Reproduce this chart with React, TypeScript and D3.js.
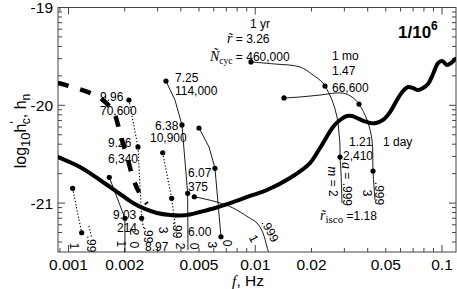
import React from "react";
import * as d3 from "d3";

const W = 457;
const H = 289;

// axis domains (frequency in Hz, log10 strain)
const fDomain = [0.000879, 0.1188];
const logHDomain = [-21.5, -19];

const xTickValues = [0.001, 0.002, 0.005, 0.01, 0.02, 0.05, 0.1];
const xTickLabels = ["0.001", "0.002", "0.005", "0.01", "0.02", "0.05", "0.1"];
const yTickValues = [-21, -20, -19];
const yTickLabels = ["-21", "-20", "-19"];

// LISA noise curve h_n
const noiseF = [0.000879, 0.001152, 0.001475, 0.001887, 0.002215, 0.002568, 0.002978, 0.003495, 0.003955, 0.004473, 0.005058, 0.006087, 0.007602, 0.009374, 0.01156, 0.01535, 0.01964, 0.02222, 0.02608, 0.02843, 0.03099, 0.03297, 0.03505, 0.03822, 0.04116, 0.04432, 0.04831, 0.05267, 0.05741, 0.06183, 0.06576, 0.06993, 0.07437, 0.0791, 0.08414, 0.0895, 0.09519, 0.1, 0.1064, 0.1117, 0.1174];
const noiseLogH = [-20.529, -20.631, -20.764, -20.907, -20.999, -21.06, -21.101, -21.122, -21.127, -21.117, -21.091, -21.05, -20.989, -20.927, -20.866, -20.743, -20.59, -20.437, -20.222, -20.15, -20.109, -20.109, -20.13, -20.161, -20.181, -20.181, -20.15, -20.069, -19.946, -19.854, -19.813, -19.823, -19.844, -19.823, -19.782, -19.68, -19.568, -19.547, -19.588, -19.568, -19.527];

// thick dashed curve
const dashF = [0.000879, 0.001353, 0.001549, 0.001668, 0.001774, 0.001842, 0.001934, 0.002057, 0.002215, 0.002385, 0.002632];
const dashLogH = [-19.772, -19.885, -19.956, -20.017, -20.099, -20.201, -20.355, -20.518, -20.743, -20.887, -21.009];

// source tracks [f, log10 h]
const trackA = [[1.0531e-3, -20.849], [1.1768e-3, -21.303]];
const trackA2 = [[1.2875e-3, -21.234], [1.3279e-3, -21.347]];
const trackB = [[2.108e-3, -19.946], [2.356e-3, -20.426], [2.465e-3, -21.155], [2.537e-3, -21.265]];
const trackC = [[1.654e-3, -20.736], [2.006e-3, -21.155], [2.006e-3, -21.5]];
const trackD = [[3.327e-3, -19.752], [3.718e-3, -19.946], [4.053e-3, -20.201], [4.347e-3, -20.9], [4.363e-3, -21.48]];
const trackE = [[3.195e-3, -20.485], [3.569e-3, -20.951], [3.796e-3, -21.344]];
const trackF = [[4.998e-3, -20.232], [5.655e-3, -20.426], [6.087e-3, -20.644], [6.555e-3, -21.344]];
const trackG = [[4.717e-3, -20.935], [6.24e-3, -20.989], [7.602e-3, -21.05], [9.146e-3, -21.142], [1.0218e-2, -21.204], [1.1002e-2, -21.306], [1.1559e-2, -21.449], [1.1775e-2, -21.5]];
const trackYr1 = [[9.489e-3, -19.557], [1.2758e-2, -19.578], [1.7362e-2, -19.608], [2.0383e-2, -19.69], [2.2773e-2, -19.762], [2.363e-2, -19.803], [2.5761e-2, -19.946], [2.74e-2, -20.12], [2.8086e-2, -20.283], [2.8435e-2, -20.426], [2.8435e-2, -20.529], [2.8787e-2, -20.692], [2.9145e-2, -20.999]];
const trackYr2 = [[1.4255e-2, -19.925], [1.7362e-2, -19.915], [2.2219e-2, -19.895], [2.9145e-2, -19.874], [3.2971e-2, -19.915], [3.5938e-2, -19.987], [3.9669e-2, -20.15], [4.2188e-2, -20.355], [4.271e-2, -20.672], [4.3777e-2, -20.968]];

// marked points
const sourceDots = [
  [1.0531e-3, -20.849], [1.1768e-3, -21.303], [2.108e-3, -19.946], [2.356e-3, -20.426],
  [2.465e-3, -21.155], [2.006e-3, -21.155], [1.654e-3, -20.736], [3.195e-3, -20.485],
  [3.569e-3, -20.951], [4.053e-3, -20.201], [3.327e-3, -19.752], [4.998e-3, -20.232],
  [6.087e-3, -20.644], [4.347e-3, -20.9], [4.717e-3, -20.935], [6.555e-3, -21.344],
  [9.489e-3, -19.557], [2.363e-2, -19.803], [2.8435e-2, -20.529], [1.4255e-2, -19.925],
  [3.5938e-2, -19.987], [4.271e-2, -20.672],
];

// horizontal labels: text, f, log10 h (left, baseline)
const pointLabels: [string, number, number][] = [
  ["9.96", 1.4746e-3, -19.961],
  ["70,600", 1.4746e-3, -20.099],
  ["9.26", 1.6274e-3, -20.426],
  ["6,340", 1.6274e-3, -20.59],
  ["7.25", 3.718e-3, -19.762],
  ["114,000", 3.718e-3, -19.895],
  ["6.38", 2.905e-3, -20.248],
  ["10,900", 2.732e-3, -20.378],
  ["9.03", 1.7306e-3, -21.163],
  ["214", 1.8187e-3, -21.296],
  ["6.07", 4.3634e-3, -20.733],
  ["375", 4.3634e-3, -20.876],
  ["6.00", 4.3634e-3, -21.336],
  ["8.97", 2.5684e-3, -21.49],
  ["1 yr", 9.374e-3, -19.21],
  ["1 mo", 2.5761e-2, -19.537],
  ["1.47", 2.5761e-2, -19.69],
  ["66,600", 2.5761e-2, -19.864],
  ["1.21", 3.177e-2, -20.414],
  ["1 day", 4.8318e-2, -20.414],
  ["2,410", 2.9506e-2, -20.555],
];

// rotated labels: text, f, log10 h (centre), angle
const endLabels: [string, number, number, number][] = [
  ["1", 1.0702e-3, -21.439, 90],
  [".99", 1.3279e-3, -21.418, 90],
  ["1", 1.9103e-3, -21.418, 90],
  ["2", 2.256e-3, -21.296, 90],
  ["0", 2.256e-3, -21.428, 90],
  [".99", 2.6652e-3, -21.326, 90],
  ["3", 3.2266e-3, -21.275, 90],
  [".99", 3.8098e-3, -21.275, 90],
  ["2", 3.9786e-3, -21.439, 90],
  ["0", 4.699e-3, -21.439, 90],
  ["3", 5.9021e-3, -21.428, 90],
  ["0", 7.0186e-3, -21.408, 90],
  ["1", 9.7866e-3, -21.362, 62],
  [".999", 1.1995e-2, -21.285, 62],
  ["3", 3.9426e-2, -20.897, 90],
  [".999", 4.599e-2, -20.902, 90],
];

const rLabelPos = [7.062e-3, -19.363];
const nLabelPos = [5.725e-3, -19.547];
const iscoLabelPos = [2.2219e-2, -21.173];
const ratioLabelPos = [5.8136e-2, -19.312];
const mLabelPos = [2.5919e-2, -20.779];
const aLabelPos = [3.0808e-2, -20.805];

const SANS = "'Liberation Sans', Arial, Helvetica, sans-serif";
const SERIF = "'Liberation Serif', 'Times New Roman', serif";
const AXIS = "#444";

export default function App() {
  const left = 58, right = 456, top = 7.5, bottom = 252;
  const x = d3.scaleLog().domain(fDomain).range([left, right]);
  const y = d3.scaleLinear().domain(logHDomain).range([bottom, top]);

  const xMinor: { v: number; major: boolean }[] = [];
  for (let e = -4; e <= -1; e++)
    for (let k = 1; k <= 9; k++) {
      const v = k * Math.pow(10, e);
      if (v >= fDomain[0] && v <= fDomain[1]) xMinor.push({ v, major: k === 1 });
    }
  const yMinor: { v: number; major: boolean }[] = [];
  for (let n = -22; n <= -19; n++)
    for (let k = 1; k <= 9; k++) {
      const v = n + Math.log10(k);
      if (v >= logHDomain[0] - 1e-9 && v <= logHDomain[1] + 1e-9) yMinor.push({ v, major: k === 1 });
    }

  const lin = d3.line<number[]>().x((d) => x(d[0])).y((d) => y(d[1]));
  const smooth = d3
    .line<number[]>()
    .x((d) => x(d[0]))
    .y((d) => y(d[1]))
    .curve(d3.curveCatmullRom.alpha(0.5));

  const noisePts = noiseF.map((f, i) => [f, noiseLogH[i]]);
  const dashPts = dashF.map((f, i) => [f, dashLogH[i]]);

  const tracks = [
    { pts: trackA, dotted: true, curved: false },
    { pts: trackA2, dotted: true, curved: false },
    { pts: trackB, dotted: true, curved: false },
    { pts: trackC, dotted: false, curved: false },
    { pts: trackD, dotted: false, curved: false },
    { pts: trackE, dotted: true, curved: false },
    { pts: trackF, dotted: false, curved: false },
    { pts: trackG, dotted: false, curved: true },
    { pts: trackYr1, dotted: false, curved: true },
    { pts: trackYr2, dotted: false, curved: true },
  ];

  const fs = 12;

  return (
    <svg
      width={W}
      height={H}
      viewBox={`0 0 ${W} ${H}`}
      style={{ position: "absolute", left: 0, top: 0, background: "#fff" }}
    >
      <defs>
        <clipPath id="plotClip">
          <rect x={left} y={top} width={right - left} height={bottom - top} />
        </clipPath>
      </defs>
      <rect x={0} y={0} width={W} height={H} fill="#fff" />

      {/* frame */}
      <rect x={left} y={top} width={right - left} height={bottom - top} fill="none" stroke={AXIS} strokeWidth={1} />

      {/* x ticks bottom & top */}
      {xMinor.map((t, i) => {
        const px = x(t.v);
        const len = t.major ? 7 : 4;
        return (
          <g key={"xt" + i} stroke={AXIS} strokeWidth={1}>
            <line x1={px} x2={px} y1={bottom} y2={bottom - len} />
            <line x1={px} x2={px} y1={top} y2={top + len} />
          </g>
        );
      })}
      {/* y ticks left & right */}
      {yMinor.map((t, i) => {
        const py = y(t.v);
        const len = t.major ? 7 : 4;
        return (
          <g key={"yt" + i} stroke={AXIS} strokeWidth={1}>
            <line x1={left} x2={left + len} y1={py} y2={py} />
            <line x1={right} x2={right - len} y1={py} y2={py} />
          </g>
        );
      })}

      {xTickValues.map((v, i) => (
        <text key={"xl" + i} x={x(v)} y={270} textAnchor="middle" fontFamily={SANS} fontSize={15.5} fill="#000">
          {xTickLabels[i]}
        </text>
      ))}
      {yTickValues.map((v, i) => (
        <text key={"yl" + i} x={53} y={y(v) + 5.5} textAnchor="end" fontFamily={SANS} fontSize={15.5} fill="#000">
          {yTickLabels[i]}
        </text>
      ))}

      {/* axis titles */}
      <text x={248} y={286} textAnchor="middle" fontFamily={SANS} fontSize={15.5} fill="#000">
        <tspan fontFamily={SERIF} fontStyle="italic">f</tspan>
        <tspan>, Hz</tspan>
      </text>
      <text transform="translate(26,131) rotate(-90)" textAnchor="middle" fontFamily={SANS} fontSize={16} fill="#000">
        <tspan>log</tspan>
        <tspan fontSize={13} dy={4}>10</tspan>
        <tspan dy={-4}>h</tspan>
        <tspan fontSize={12} dy={-7}>'</tspan>
        <tspan fontSize={12} dy={11} dx={-3}>c</tspan>
        <tspan dy={-4}>, h</tspan>
        <tspan fontSize={12} dy={4}>n</tspan>
      </text>

      <g clipPath="url(#plotClip)">
        {tracks.map((t, i) => (
          <path
            key={"tr" + i}
            d={(t.curved ? smooth : lin)(t.pts) || ""}
            fill="none"
            stroke="#000"
            strokeWidth={t.dotted ? 1.1 : 0.9}
            strokeDasharray={t.dotted ? "1.3 1.9" : undefined}
          />
        ))}
        <path d={smooth(dashPts) || ""} fill="none" stroke="#000" strokeWidth={4.5} strokeDasharray="11 12" />
        <path d={smooth(noisePts) || ""} fill="none" stroke="#000" strokeWidth={4} strokeLinejoin="round" strokeLinecap="round" />
        {sourceDots.map((d, i) => (
          <circle key={"dt" + i} cx={x(d[0])} cy={y(d[1])} r={2.6} fill="#000" />
        ))}
      </g>

      {/* point labels */}
      {pointLabels.map(([t, f, h], i) => (
        <text key={"pl" + i} x={x(f)} y={y(h)} fontFamily={SANS} fontSize={fs} fill="#000">
          {t}
        </text>
      ))}
      {endLabels.map(([t, f, h, a], i) => (
        <text
          key={"el" + i}
          x={x(f)}
          y={y(h)}
          transform={`rotate(${a} ${x(f)} ${y(h)})`}
          textAnchor="middle"
          dominantBaseline="central"
          fontFamily={SANS}
          fontSize={fs}
          fill="#000"
        >
          {t}
        </text>
      ))}

      <text x={x(rLabelPos[0])} y={y(rLabelPos[1])} fontFamily={SANS} fontSize={fs} fill="#000">
        <tspan fontFamily={SERIF} fontStyle="italic" fontSize={14}>r&#x303;</tspan>
        <tspan> = 3.26</tspan>
      </text>
      <text x={x(nLabelPos[0])} y={y(nLabelPos[1])} fontFamily={SANS} fontSize={fs} fill="#000">
        <tspan fontFamily={SERIF} fontStyle="italic" fontSize={14}>Ñ</tspan>
        <tspan fontFamily={SERIF} fontSize={9.5} dy={3}>cyc</tspan>
        <tspan dy={-3}> = 460,000</tspan>
      </text>
      <text x={x(iscoLabelPos[0])} y={y(iscoLabelPos[1])} fontFamily={SANS} fontSize={fs} fill="#000">
        <tspan fontFamily={SERIF} fontStyle="italic" fontSize={14}>r&#x303;</tspan>
        <tspan fontFamily={SERIF} fontSize={11} dy={3}>isco</tspan>
        <tspan dy={-3}> =1.18</tspan>
      </text>
      <text x={x(ratioLabelPos[0])} y={y(ratioLabelPos[1])} fontFamily={SANS} fontSize={17} fontWeight="bold" fill="#000">
        <tspan>1/10</tspan>
        <tspan fontSize={12} dy={-8}>6</tspan>
      </text>
      <text
        x={x(mLabelPos[0])}
        y={y(mLabelPos[1])}
        transform={`rotate(90 ${x(mLabelPos[0])} ${y(mLabelPos[1])})`}
        textAnchor="middle"
        dominantBaseline="central"
        fontFamily={SANS}
        fontSize={fs}
        fill="#000"
      >
        <tspan fontFamily={SERIF} fontStyle="italic" fontSize={14}>m</tspan>
        <tspan> = 2</tspan>
      </text>
      <text
        x={x(aLabelPos[0])}
        y={y(aLabelPos[1])}
        transform={`rotate(90 ${x(aLabelPos[0])} ${y(aLabelPos[1])})`}
        textAnchor="middle"
        dominantBaseline="central"
        fontFamily={SANS}
        fontSize={fs}
        fill="#000"
      >
        <tspan fontFamily={SERIF} fontStyle="italic" fontSize={14}>a</tspan>
        <tspan> = .999</tspan>
      </text>
    </svg>
  );
}
